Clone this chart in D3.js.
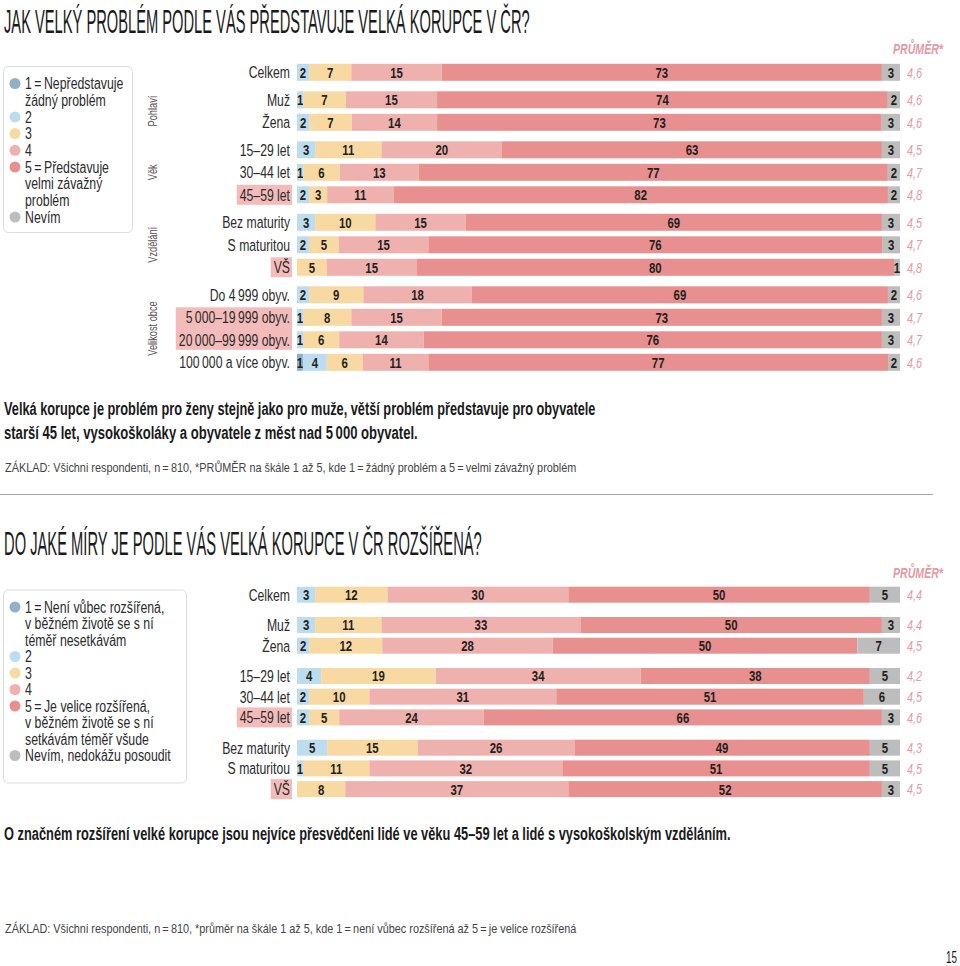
<!DOCTYPE html>
<html><head><meta charset="utf-8">
<script src="https://cdn.jsdelivr.net/npm/d3@7"></script>
<style>body{margin:0;background:#fff}</style>
</head><body><svg id="c" width="960" height="966"></svg>
<script>
// ---------- DATA ----------
const keys = ["c1","c2","c3","c4","c5","nevim"];
const colors = ["#8fb2c9","#bcdcf0","#f8d9a2","#efb1ae","#e8908f","#bdbdbd"];

// Chart 1: Jak velký problém
const cats1 = ["Celkem","Muž","Žena","15–29 let","30–44 let","45–59 let","Bez maturity","S maturitou","VŠ","Do 4\u2009999 obyv.","5\u2009000–19\u2009999 obyv.","20\u2009000–99\u2009999 obyv.","100\u2009000 a více obyv."];
const groups1 = [0,1,1,2,2,2,3,3,3,4,4,4,4];
const s1_1 = [0,0,0,0,0,0,0,0,0,0,0,0,1];
const s1_2 = [2,1,2,3,1,2,3,2,0,2,1,1,4];
const s1_3 = [7,7,7,11,6,3,10,5,5,9,8,6,6];
const s1_4 = [15,15,14,20,13,11,15,15,15,18,15,14,11];
const s1_5 = [73,74,73,63,77,82,69,76,80,69,73,76,77];
const s1_n = [3,2,3,3,2,2,3,3,1,2,3,3,2];
const avg1 = ["4,6","4,6","4,6","4,5","4,7","4,8","4,5","4,7","4,8","4,6","4,7","4,7","4,6"];
const hl1 = ["45–59 let","VŠ","5\u2009000–19\u2009999 obyv.","20\u2009000–99\u2009999 obyv."];
const groupNames1 = [null,"Pohlaví","Věk","Vzdělání","Velikost obce"];
const legend1 = [["1\u2009=\u2009Nepředstavuje",0],["žádný problém",-1],["2",1],["3",2],["4",3],["5\u2009=\u2009Představuje",4],["velmi závažný",-1],["problém",-1],["Nevím",5]];

// Chart 2: Do jaké míry rozšířená
const cats2 = ["Celkem","Muž","Žena","15–29 let","30–44 let","45–59 let","Bez maturity","S maturitou","VŠ"];
const groups2 = [0,1,1,2,2,2,3,3,3];
const s2_1 = [0,0,0,0,0,0,0,0,0];
const s2_2 = [3,3,2,4,2,2,5,1,0];
const s2_3 = [12,11,12,19,10,5,15,11,8];
const s2_4 = [30,33,28,34,31,24,26,32,37];
const s2_5 = [50,50,50,38,51,66,49,51,52];
const s2_n = [5,3,7,5,6,3,5,5,3];
const avg2 = ["4,4","4,4","4,5","4,2","4,5","4,6","4,3","4,5","4,5"];
const hl2 = ["45–59 let","VŠ"];
const legend2 = [["1\u2009=\u2009Není vůbec rozšířená,",0],["v běžném životě se s ní",-1],["téměř nesetkávám",-1],["2",1],["3",2],["4",3],["5\u2009=\u2009Je velice rozšířená,",4],["v běžném životě se s ní",-1],["setkávám téměř všude",-1],["Nevím, nedokážu posoudit",5]];

// ---------- DRAW ----------
const FONT = "'Liberation Sans',Arial,Helvetica,sans-serif";
const svg = d3.select("#c");
const color = d3.scaleOrdinal().domain(keys).range(colors);

// text helper: horizontally condensed text (scaleX), or fitted to a width
function txt(p, o){
  let tr = `translate(${o.x},${o.y})` + (o.rotate ? ` rotate(${o.rotate})` : "");
  const g = p.append("g").attr("transform", tr);
  const t = g.append("text").attr("text-anchor", o.anchor || "start").attr("dy", o.dy || null)
    .attr("font-family", FONT).attr("font-size", o.size).attr("font-weight", o.weight || "normal")
    .attr("font-style", o.style || "normal").attr("fill", o.fill || "#2b2b2b").text(o.text);
  let k = o.sx || 1;
  const nat = t.node().getComputedTextLength();
  if (o.w) k = o.w / nat;
  t.attr("transform", `scale(${k},1)`);
  return nat * k;
}

function drawChart(o){
  const rows = o.cats.map((c,i)=>{const r={cat:c,g:o.groups[i],i:i}; keys.forEach((k,j)=>r[k]=o.series[j][i]); return r;});
  const stacked = d3.stack().keys(keys).offset(d3.stackOffsetExpand)(rows);
  const x = d3.scaleLinear().domain([0,1]).range([297,900]);
  const y = d3.scaleLinear().domain([0,1]).range([o.y0, o.y0+o.step]);
  const yc = r => y(r.i + r.g*o.gap/o.step);
  const g = svg.append("g");

  // row labels with highlight boxes
  const boxes = g.append("g");
  const lab = g.append("g");
  const widths = rows.map(r => txt(lab, {x:290, y:yc(r), dy:"0.36em", anchor:"end", size:16.5, sx:0.74, text:r.cat}));
  let i=0;
  while(i<rows.length){
    if(o.hl.includes(rows[i].cat)){
      let j=i; while(j+1<rows.length && o.hl.includes(rows[j+1].cat)) j++;
      const w = d3.max(widths.slice(i,j+1));
      boxes.append("rect").attr("x",290-w-3).attr("width",w+5)
        .attr("y",yc(rows[i])-10).attr("height",yc(rows[j])-yc(rows[i])+20)
        .attr("fill","#f3bcba");
      i=j+1;
    } else i++;
  }

  // bars
  stacked.forEach(layer=>{
    g.append("g").selectAll("rect").data(layer).join("rect")
      .attr("x",d=>x(d[0])).attr("width",d=>x(d[1])-x(d[0]))
      .attr("y",d=>yc(d.data)-o.barH/2).attr("height",o.barH)
      .attr("fill",color(layer.key));
    g.append("g").selectAll("text").data(layer.filter(d=>d.data[layer.key]>0)).join("text")
      .attr("transform",d=>`translate(${(x(d[0])+x(d[1]))/2},${yc(d.data)}) scale(0.76,1)`)
      .attr("dy","0.36em")
      .attr("text-anchor","middle").attr("font-family",FONT).attr("font-weight","bold")
      .attr("font-size",15).attr("fill","#231f20").text(d=>d.data[layer.key]);
  });

  // averages
  g.append("g").selectAll("text").data(rows).join("text")
    .attr("transform",d=>`translate(907,${yc(d)}) scale(0.75,1)`).attr("dy","0.36em")
    .attr("font-family",FONT).attr("font-style","italic").attr("font-size",14.5)
    .attr("fill","#e39aa5").text((d,k)=>o.avgs[k]);
  txt(g,{x:893,y:o.prumerY,size:14,weight:"bold",style:"italic",fill:"#e39aa5",w:50,text:"PRŮMĚR*"});

  // group labels
  if(o.groupNames){
    d3.range(1,o.groupNames.length).forEach(gi=>{
      const rs = rows.filter(r=>r.g===gi);
      const cy = (yc(rs[0])+yc(rs[rs.length-1]))/2;
      txt(g,{x:157,y:cy,rotate:-90,anchor:"middle",size:12.5,sx:0.74,fill:"#555",text:o.groupNames[gi]});
    });
  }

  // legend
  const lg = svg.append("g");
  lg.append("rect").attr("x",3.5).attr("y",o.legY).attr("width",o.legW).attr("height",o.legH)
    .attr("rx",5).attr("fill","#fff").attr("stroke","#dcdcdc");
  o.legend.forEach((it,k)=>{
    const ly = o.legY+17+k*o.legStep;
    if(it[1]>=0) lg.append("circle").attr("cx",15).attr("cy",ly).attr("r",5.5).attr("fill",colors[it[1]]);
    txt(lg,{x:25,y:ly,dy:"0.36em",size:16,sx:0.77,text:it[0]});
  });
}

txt(svg,{x:4,y:33,size:34,w:526,fill:"#1a1a1a",text:"JAK VELKÝ PROBLÉM PODLE VÁS PŘEDSTAVUJE VELKÁ KORUPCE V ČR?"});
drawChart({cats:cats1,groups:groups1,series:[s1_1,s1_2,s1_3,s1_4,s1_5,s1_n],avgs:avg1,hl:hl1,
  y0:72.3,step:22.5,gap:5,barH:17,groupNames:groupNames1,prumerY:54,
  legend:legend1,legY:66.5,legW:129,legH:166,legStep:16.7});

txt(svg,{x:4,y:415,size:19,weight:"bold",w:592,fill:"#1a1a1a",text:"Velká korupce je problém pro ženy stejně jako pro muže, větší problém představuje pro obyvatele"});
txt(svg,{x:4,y:439,size:19,weight:"bold",w:414,fill:"#1a1a1a",text:"starší 45 let, vysokoškoláky a obyvatele z měst nad 5\u2009000 obyvatel."});
txt(svg,{x:5,y:472,size:12.5,w:572,fill:"#444",text:"ZÁKLAD: Všichni respondenti, n\u2009=\u2009810, *PRŮMĚR na škále 1 až 5, kde 1\u2009=\u2009žádný problém a 5\u2009=\u2009velmi závažný problém"});
svg.append("line").attr("x1",0).attr("x2",933).attr("y1",494.5).attr("y2",494.5).attr("stroke","#aaa");

txt(svg,{x:4,y:555,size:34,w:478,fill:"#1a1a1a",text:"DO JAKÉ MÍRY JE PODLE VÁS VELKÁ KORUPCE V ČR ROZŠÍŘENÁ?"});
drawChart({cats:cats2,groups:groups2,series:[s2_1,s2_2,s2_3,s2_4,s2_5,s2_n],avgs:avg2,hl:hl2,
  y0:594.7,step:20.7,gap:9.6,barH:16,groupNames:null,prumerY:578,
  legend:legend2,legY:590,legW:183,legH:193,legStep:16.5});

txt(svg,{x:4,y:840,size:19,weight:"bold",w:727,fill:"#1a1a1a",text:"O značném rozšíření velké korupce jsou nejvíce přesvědčeni lidé ve věku 45–59 let a lidé s vysokoškolským vzděláním."});
txt(svg,{x:5,y:933,size:12.5,w:572,fill:"#444",text:"ZÁKLAD: Všichni respondenti, n\u2009=\u2009810, *průměr na škále 1 až 5, kde 1\u2009=\u2009není vůbec rozšířená až 5\u2009=\u2009je velice rozšířená"});
txt(svg,{x:946,y:963,size:17,w:11,fill:"#1a1a1a",text:"15"});
</script></body></html>
